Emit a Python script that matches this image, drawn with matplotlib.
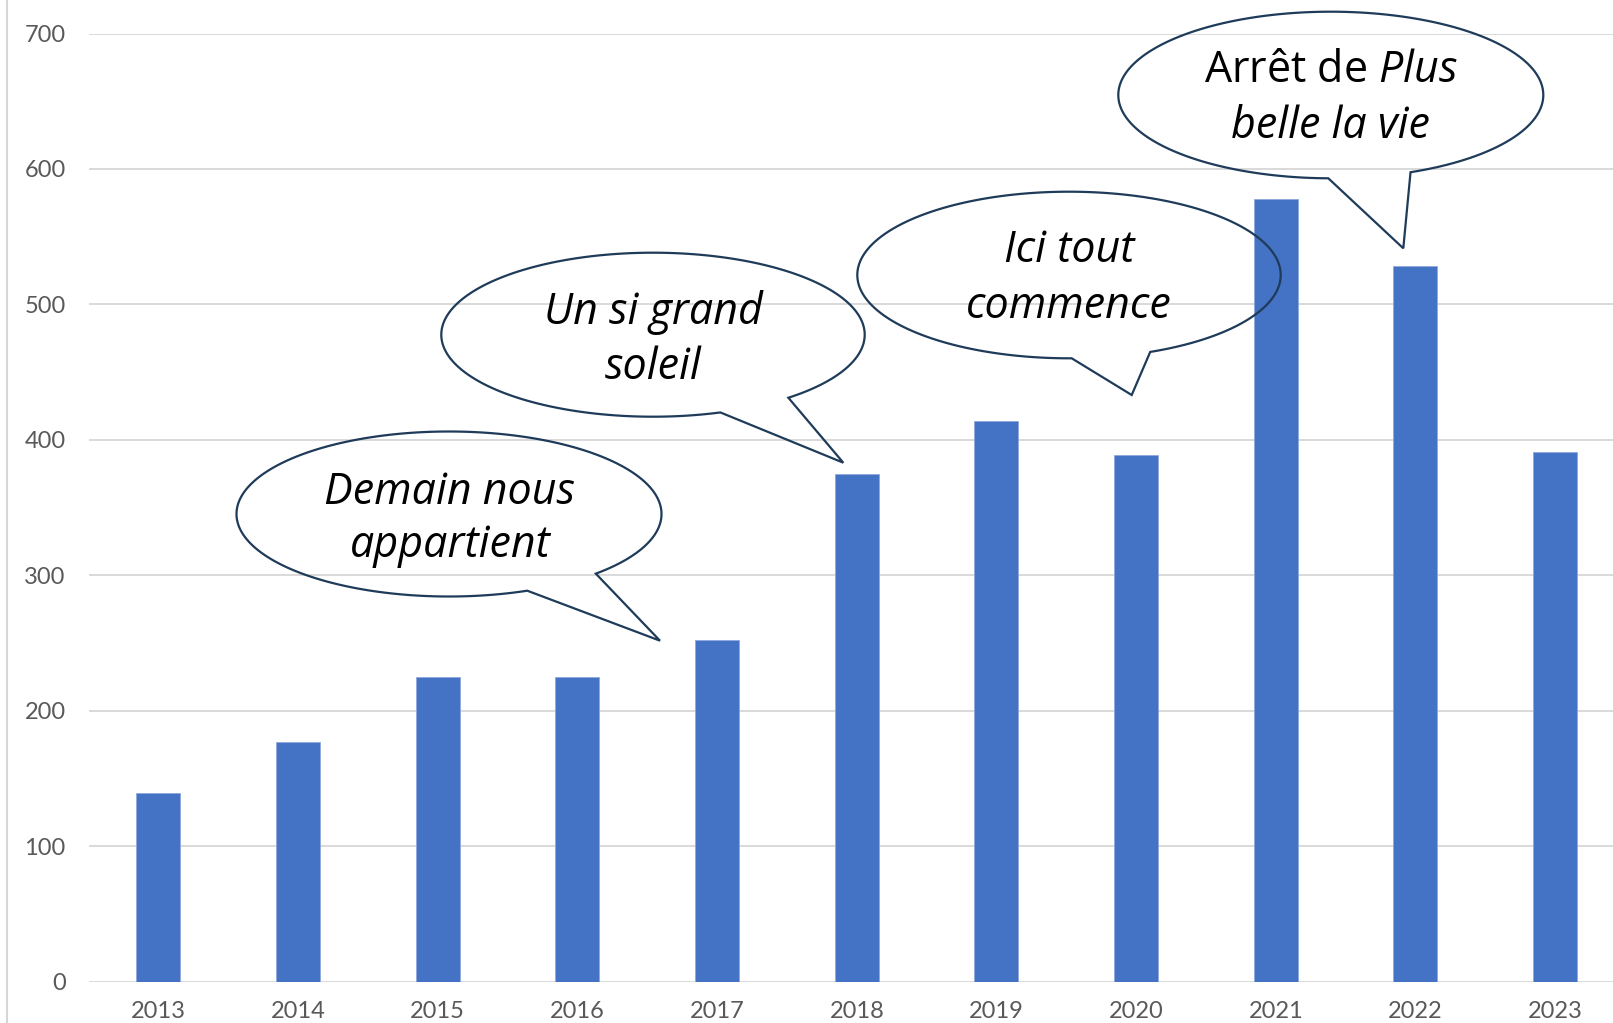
import numpy as np
import matplotlib
matplotlib.use("Agg")
import matplotlib.pyplot as plt
from matplotlib.patches import Polygon
from matplotlib.lines import Line2D

# ---- data ----
years = ["2013", "2014", "2015", "2016", "2017", "2018", "2019", "2020", "2021", "2022", "2023"]
values = [139, 177, 225, 225, 252, 375, 414, 389, 578, 528, 391]
yticks = [0, 100, 200, 300, 400, 500, 600, 700]

W, H = 1613, 1023
plt.rcParams['mathtext.fontset'] = 'custom'
plt.rcParams['mathtext.rm'] = 'Open Sans'
plt.rcParams['mathtext.it'] = 'Open Sans:italic'

fig = plt.figure(figsize=(W / 100, H / 100), dpi=100)
fig.patch.set_facecolor("white")


def fx(x):
    return x / W


def fy(y):
    return 1 - y / H


ax_left, ax_right = 88.6, 1625.0
ax_top, ax_bottom = 33.5, 981.7
ax = fig.add_axes([fx(ax_left), fy(ax_bottom), (ax_right - ax_left) / W, (ax_bottom - ax_top) / H])

x = np.arange(len(years))
ax.bar(x, values, width=0.315, color="#4472C4", edgecolor="#8fa9dc", linewidth=0.6, zorder=3)
ax.set_xlim(-0.5, len(years) - 0.5)
ax.set_ylim(0, 700)
ax.set_yticks(yticks)
ax.set_xticks(x)
ax.set_xticklabels(years)
for s in ax.spines.values():
    s.set_visible(False)
ax.grid(axis="y", color="#d9d9d9", linewidth=1.4, zorder=0)
ax.set_axisbelow(True)
ax.tick_params(axis="both", length=0, colors="#595959", labelsize=17)
ax.tick_params(axis="y", pad=16.5)
ax.tick_params(axis="x", pad=14)
for lab in ax.get_xticklabels() + ax.get_yticklabels():
    lab.set_fontfamily("Lato")

# left border line
fig.add_artist(Line2D([fx(7), fx(7)], [0, 1], color="#d6d6d6", linewidth=1.5, transform=fig.transFigure))

# ---- callouts ----
EDGE = "#1f3b5a"


def callout(cx, cy, a, b, pa, tip, pb):
    ta = np.arctan2((pa[1] - cy) / b, (pa[0] - cx) / a)
    tb = np.arctan2((pb[1] - cy) / b, (pb[0] - cx) / a)
    d = (ta - tb) % (2 * np.pi)
    if d < np.pi:
        d = d - 2 * np.pi
    t = np.linspace(tb, tb + d, 300)
    pts = [(fx(cx + a * np.cos(tt)), fy(cy + b * np.sin(tt))) for tt in t]
    pts.append((fx(tip[0]), fy(tip[1])))
    poly = Polygon(pts, closed=True, facecolor="none", edgecolor=EDGE, linewidth=1.6,
                   transform=fig.transFigure, joinstyle="miter")
    fig.add_artist(poly)


callout(449, 514, 212.5, 82.5, (596.7, 574), (660, 640.7), (528.3, 591.7))
callout(653, 334.7, 211.7, 82, (791.7, 399.3), (843.3, 462.7), (721.7, 414))
callout(1069, 275, 211.7, 83.3, (1150, 351.7), (1131.7, 395), (1071.7, 358.3))
callout(1330.8, 95, 212.5, 83.3, (1410, 171.7), (1403.3, 248.3), (1328.3, 178.3))

TS = 31
tk = dict(ha="center", va="baseline", fontsize=TS, fontfamily="Open Sans", color="black",
          transform=fig.transFigure)
fig.text(fx(450), fy(504), "Demain nous", style="italic", **tk)
fig.text(fx(450), fy(557.5), "appartient", style="italic", **tk)
fig.text(fx(653), fy(324), "Un si grand", style="italic", **tk)
fig.text(fx(653), fy(379), "soleil", style="italic", **tk)
fig.text(fx(1069), fy(262.5), "Ici tout", style="italic", **tk)
fig.text(fx(1069), fy(318), "commence", style="italic", **tk)
fig.text(fx(1330.8), fy(82.5), r"Arrêt de $\mathit{Plus}$", style="normal", **tk)
fig.text(fx(1330.8), fy(137.5), "belle la vie", style="italic", **tk)

fig.savefig("out.png", dpi=100, facecolor="white")
